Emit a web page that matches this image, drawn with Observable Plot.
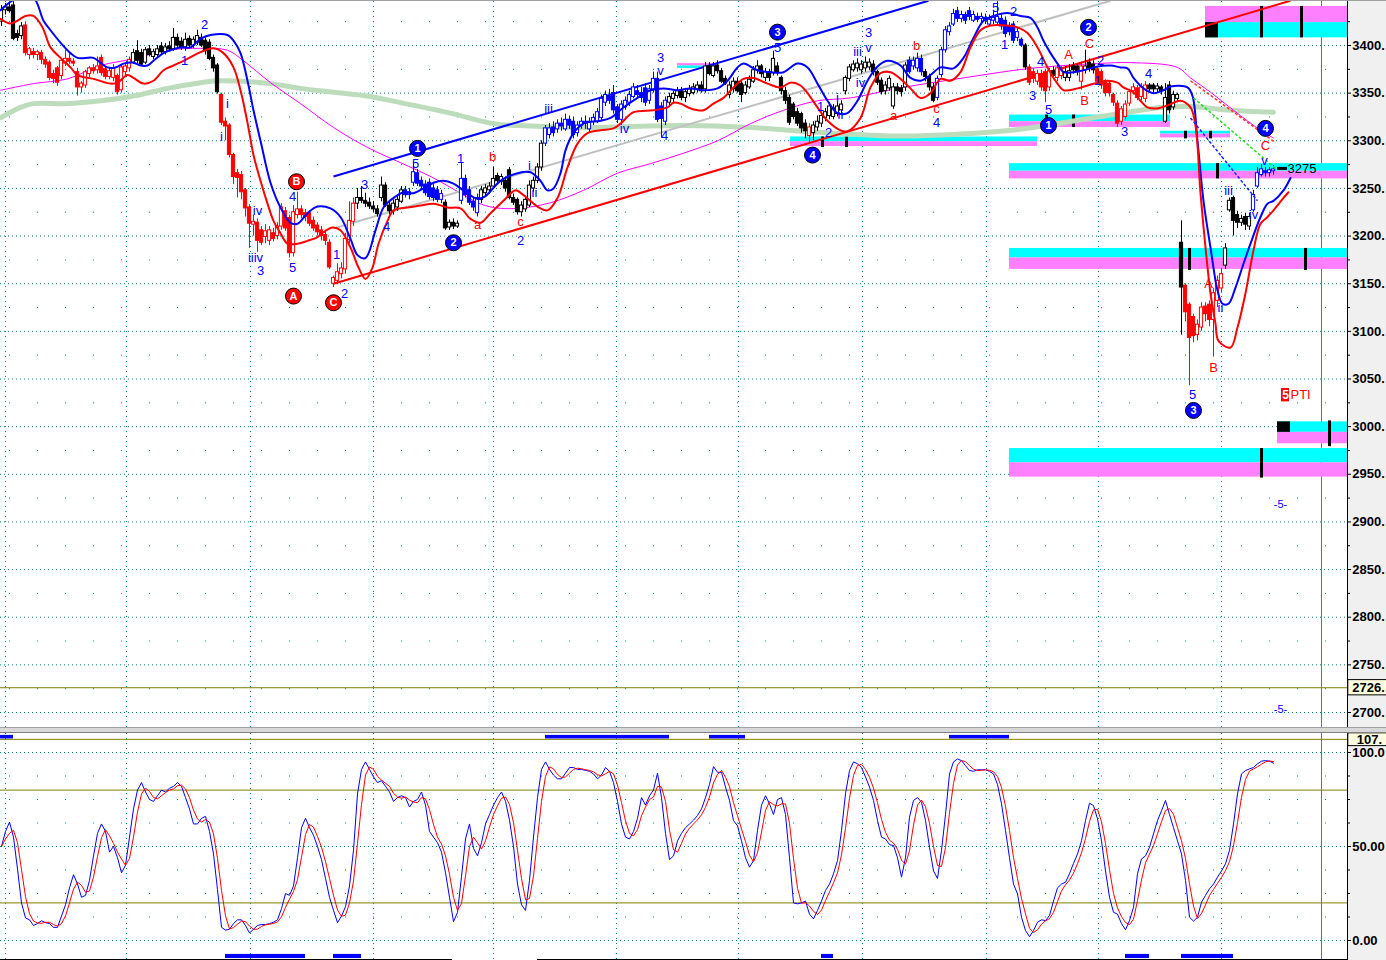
<!DOCTYPE html>
<html><head><meta charset="utf-8">
<script src="https://cdn.jsdelivr.net/npm/d3@7"></script>
<script src="https://cdn.jsdelivr.net/npm/@observablehq/plot@0.6"></script>
<style>
html,body{margin:0;padding:0;background:#fff;overflow:hidden}
#wrap{position:relative;width:1386px;height:960px;overflow:hidden;background:linear-gradient(to right,#fff 0,#fff 1348px,#f0f0f0 1348px)}
#top{border-top:1px solid #a0a0a0}
#sep{height:4px;background:#d8d8d8;border-top:1px solid #a0a0a0;border-bottom:1px solid #808080}
svg{display:block}
</style></head><body><div id="wrap"><div id="top"></div><div id="sep"></div><div id="bot"></div></div>
<script>
// ---------- price bars (one entry per bar) ----------
const barOpen = [
3425,3437,3440,3442,3412,3410,3421,3390,3393,3390,
3392,3385,3382,3370,3376,3368,3381,3386,3383,3372,
3356,3358,3370,3376,3374,3387,3375,3367,3366,3368,
3353,3372,3376,3382,3394,3392,3382,3396,3388,3390,
3399,3393,3399,3396,3408,3404,3398,3407,3400,3403,
3408,3405,3403,3387,3379,3348,3320,3316,3285,3266,
3264,3248,3230,3212,3214,3206,3199,3195,3203,3200,
3210,3226,3219,3182,3222,3228,3224,3224,3216,3211,
3206,3201,3193,3150,3153,3160,3165,3196,3215,3234,
3240,3237,3235,3231,3228,3240,3253,3232,3226,3230,
3236,3248,3243,3256,3266,3258,3254,3256,3250,3248,
3238,3235,3209,3214,3210,3237,3260,3248,3236,3224,
3238,3245,3248,3252,3263,3257,3258,3269,3240,3238,
3225,3228,3232,3250,3258,3272,3297,3306,3314,3312,
3318,3312,3322,3320,3308,3316,3320,3312,3320,3320,
3324,3340,3346,3350,3335,3322,3335,3340,3346,3352,
3350,3355,3342,3354,3365,3336,3320,3340,3344,3347,
3352,3345,3349,3350,3354,3358,3354,3378,3368,3379,
3373,3365,3348,3354,3362,3360,3350,3356,3362,3374,
3378,3366,3372,3371,3378,3366,3352,3345,3338,3330,
3328,3318,3305,3308,3314,3318,3324,3326,3325,3328,
3332,3352,3365,3374,3376,3374,3376,3377,3380,3372,
3363,3352,3355,3336,3356,3355,3356,3384,3378,3376,
3386,3372,3367,3356,3345,3369,3395,3414,3422,3436,
3428,3432,3436,3426,3430,3428,3429,3422,3426,3424,
3428,3426,3420,3422,3408,3406,3400,3377,3372,3362,
3370,3372,3356,3373,3366,3368,3366,3366,3378,3378,
3362,3374,3382,3380,3375,3372,3362,3360,3348,3339,
3320,3325,3339,3352,3355,3346,3344,3358,3358,3354,
3356,3320,3358,3335,3344,3193,3148,3128,3115,3096,
3104,3126,3128,3112,3132,3145,3169,3227,3240,3222,
3214,3220,3210,3227,3252,3264,3268,3266,3268];
const barHigh = [
3442,3444,3445,3446,3416,3424,3425,3398,3397,3395,
3395,3388,3384,3374,3378,3386,3395,3393,3386,3376,
3362,3374,3378,3380,3388,3390,3378,3376,3380,3370,
3380,3382,3388,3396,3405,3396,3398,3400,3396,3400,
3403,3402,3404,3418,3412,3408,3413,3410,3409,3416,
3412,3408,3406,3390,3381,3350,3324,3318,3287,3270,
3268,3250,3233,3222,3218,3210,3212,3210,3208,3214,
3234,3230,3222,3232,3246,3232,3228,3226,3220,3214,
3210,3206,3196,3158,3171,3172,3203,3236,3240,3250,
3252,3245,3240,3236,3232,3262,3256,3236,3238,3242,
3252,3252,3250,3278,3270,3262,3258,3260,3254,3252,
3248,3238,3217,3218,3216,3276,3264,3252,3240,3244,
3252,3254,3256,3272,3266,3265,3262,3272,3244,3240,
3236,3242,3258,3262,3276,3300,3316,3318,3320,3322,
3324,3328,3326,3325,3320,3324,3326,3324,3328,3334,
3348,3352,3354,3358,3338,3342,3346,3352,3360,3358,
3356,3360,3358,3372,3372,3340,3346,3350,3352,3356,
3356,3355,3358,3360,3362,3362,3382,3382,3382,3384,
3376,3368,3362,3366,3366,3362,3362,3368,3378,3384,
3380,3376,3375,3394,3382,3368,3356,3348,3340,3334,
3330,3322,3318,3320,3326,3330,3334,3340,3338,3340,
3342,3368,3380,3384,3386,3384,3388,3386,3384,3374,
3366,3362,3368,3360,3360,3358,3382,3388,3388,3392,
3390,3375,3370,3360,3368,3398,3420,3424,3438,3440,
3436,3435,3440,3436,3434,3434,3433,3432,3436,3446,
3432,3430,3424,3425,3418,3408,3402,3380,3376,3374,
3374,3375,3376,3378,3380,3378,3378,3380,3382,3380,
3382,3395,3386,3384,3378,3374,3364,3362,3350,3342,
3336,3342,3354,3360,3358,3360,3362,3360,3360,3360,
3358,3360,3362,3352,3350,3216,3150,3130,3118,3112,
3130,3130,3132,3145,3158,3166,3192,3240,3242,3226,
3222,3224,3224,3248,3272,3275,3272,3272,3274];
const barLow = [
3420,3432,3434,3405,3404,3406,3389,3385,3386,3384,
3380,3376,3363,3360,3357,3364,3378,3380,3378,3347,
3350,3355,3366,3370,3370,3368,3364,3364,3362,3348,
3350,3368,3372,3380,3380,3378,3380,3388,3385,3388,
3390,3390,3393,3394,3398,3395,3394,3397,3397,3400,
3398,3390,3384,3372,3349,3316,3300,3282,3254,3240,
3238,3220,3187,3200,3183,3190,3192,3190,3194,3196,
3206,3205,3177,3178,3218,3218,3215,3210,3205,3200,
3195,3190,3165,3146,3149,3155,3160,3192,3210,3228,
3234,3230,3228,3225,3220,3236,3230,3222,3222,3226,
3234,3240,3238,3252,3252,3248,3242,3238,3236,3235,
3234,3206,3206,3207,3208,3233,3240,3232,3226,3220,
3234,3242,3244,3250,3254,3253,3246,3238,3232,3222,
3220,3225,3230,3246,3255,3268,3294,3302,3304,3308,
3310,3310,3312,3302,3304,3312,3312,3308,3316,3318,
3320,3336,3338,3328,3318,3318,3332,3336,3344,3344,
3340,3336,3338,3350,3319,3303,3316,3336,3340,3344,
3342,3340,3346,3348,3350,3350,3350,3368,3366,3370,
3360,3358,3344,3350,3350,3340,3348,3354,3360,3370,
3366,3362,3362,3368,3368,3348,3338,3316,3322,3315,
3308,3302,3298,3300,3310,3314,3320,3322,3322,3325,
3328,3348,3362,3372,3372,3370,3372,3374,3368,3358,
3348,3348,3352,3333,3348,3346,3352,3370,3374,3372,
3368,3362,3352,3340,3342,3366,3392,3410,3420,3424,
3424,3422,3426,3424,3424,3424,3422,3420,3422,3420,
3416,3408,3410,3402,3404,3398,3374,3358,3360,3358,
3352,3340,3352,3364,3362,3364,3362,3362,3370,3368,
3353,3370,3372,3370,3358,3354,3346,3346,3336,3314,
3316,3322,3336,3348,3342,3342,3340,3350,3350,3350,
3348,3318,3328,3332,3340,3096,3110,3043,3088,3090,
3100,3110,3105,3073,3125,3140,3165,3225,3200,3208,
3210,3206,3206,3225,3250,3262,3262,3262,3264];
const barClose = [
3437,3440,3436,3407,3408,3420,3392,3396,3390,3393,
3385,3380,3366,3365,3361,3384,3386,3383,3381,3356,
3360,3372,3376,3373,3378,3371,3367,3373,3376,3351,
3377,3378,3385,3392,3384,3380,3395,3390,3393,3396,
3393,3398,3396,3408,3400,3398,3406,3400,3406,3410,
3400,3394,3386,3376,3351,3319,3315,3285,3262,3261,
3246,3229,3213,3215,3195,3193,3205,3206,3197,3210,
3230,3208,3182,3225,3228,3222,3220,3213,3208,3204,
3200,3195,3167,3156,3162,3166,3197,3216,3234,3240,
3237,3234,3231,3228,3223,3253,3232,3226,3234,3238,
3248,3243,3246,3267,3255,3252,3245,3241,3240,3238,
3244,3208,3214,3210,3213,3260,3243,3235,3230,3240,
3248,3250,3252,3260,3258,3262,3250,3240,3235,3225,
3232,3238,3253,3258,3272,3297,3313,3313,3308,3318,
3315,3322,3316,3306,3316,3320,3318,3320,3324,3330,
3344,3348,3342,3332,3322,3338,3342,3348,3356,3348,
3345,3340,3354,3365,3322,3323,3342,3346,3349,3352,
3345,3351,3354,3356,3358,3352,3378,3370,3378,3373,
3362,3360,3358,3362,3352,3348,3358,3364,3374,3378,
3370,3372,3366,3386,3372,3352,3342,3319,3325,3318,
3313,3310,3314,3316,3320,3326,3330,3336,3334,3336,
3338,3366,3377,3380,3381,3380,3382,3382,3372,3361,
3351,3358,3365,3356,3352,3351,3379,3372,3384,3386,
3372,3367,3356,3342,3365,3395,3416,3420,3433,3428,
3432,3426,3430,3432,3427,3430,3426,3427,3429,3430,
3420,3412,3414,3405,3414,3400,3377,3361,3365,3370,
3356,3352,3373,3368,3376,3374,3372,3373,3374,3372,
3378,3378,3376,3374,3362,3358,3350,3350,3340,3318,
3333,3338,3351,3356,3345,3356,3358,3354,3354,3357,
3352,3345,3332,3348,3348,3146,3120,3093,3095,3107,
3125,3118,3112,3140,3153,3160,3187,3237,3216,3214,
3218,3212,3220,3243,3266,3270,3266,3269,3270];
// bar colour class: r = red (down trend), b = blue (up trend), k = black/white
const barTone =
"kkkkkkrrrr"+"rrrrrrrrrr"+"rrrrrrrrrr"+"rrrkkkkkkk"+"kkkkkkkkkk"+
"kkkkkrrrrr"+"rrrrrrrrrr"+"rrrrrrrrrr"+"rrrrrrrrrk"+"kkkkkkkkkk"+
"kbbbbbbbbb"+"bkkkkbbbbb"+"kkkkkkkkkk"+"kkkkkkbbbb"+"bbbbbbbbbb"+
"bbbbbbbbbb"+"bbbbbbbkkk"+"kkkkkkkkkk"+"kkkkkkkkkk"+"kkkkkkkkkk"+
"kkrkkkkkkk"+"kkkkkkkkkk"+"kkkkkkkbbb"+"bkkkbbbbbb"+"bbbbbbbbbb"+
"bbbbbbkrrr"+"rrrkrrkkkk"+"rkkkrrrrrr"+"rrrrrrrkkk"+"kkkkkkrrrr"+
"rrrrrrkkkk"+"kkkbbbbbb";

// ---------- stochastic %K (lower panel), one per bar ----------
const stochK = [
50,58,63,55,38,20,12,11,8,9,
10.5,9.5,9,7,7,13,19,28,35,30,
23,24,32,45,57,62,58,47,50,44,
36,40,55,70,80,84,79,75,74,77,
80,79,81,82,84,82,76,70,62,62,
65,66,58,46,27,7,5.5,6,9,11,
11,8,4,6,8,8.5,8.5,9,9.7,11,
17,25,24,29,44,60,65,60,56,50,
43,33,23,16,9.5,13,18,29,48,78,
91,95,91,87,84,85,82,79,74,76,
77,76,71,74,75,79,72,58,55,52,
47,36,23,10,15,34,54,62,49,45,
52,62,67,72,76,79,74,64,50,30,
19,16,32,55,76,91,95,91,88,86,
86,89,92,92,91,91,90.5,90,88.6,86,
88,92,90,84,74,62,55,54,58,65,
76,72,77,80,89,76,57,43,45,53,
57,60,62,64,66.5,70,76,83,92.5,89.5,
89.5,81.6,74.5,63.8,61,53,44,39,42.5,58.5,
72,77,72.7,67,75,76,67,44,20,19.5,
20,21,14,11.5,16,21,26.6,30,35.5,42.5,
58.5,78,90.4,95,94,92,87,81.6,74.5,63.8,
55,54,51,50.5,44,33.7,44,65.6,74.5,76,
73.6,63.8,49.6,37,33,48,67,88.6,95,96.6,
95.7,93,90.4,90,90.8,90.8,90.8,90,88.6,83,
72.7,58.5,44,30,24.8,12.4,5.3,2,5.3,9.7,
11,10.6,13.3,21,28,30,31,35.5,41,46,
53,63.8,73,71.8,64.7,53,37,23,15,14,
9,5.7,10.6,17.7,35.5,43.4,45,49.6,56.7,63.8,
69,74.5,67,60,53,46,32,12.4,10.3,12.4,
20.4,24,27.5,30,33.7,37,40.8,48,62,78,
88.6,90.4,91.3,92,94,95.4,95.7,95.4,94.3];

// ---------- indicator lines (bar position, price) ----------
const blueBandBar = [-0.25,4,8,10.5,12.25,14.75,17.25,19,23,24.75,26.5,28.5,30.5,33,34.75,36.5,38,40.5,42.25,44.75,47.25,49.75,52.25,56.5,58,59.75,61.5,63,64.75,67.25,69.75,72.25,74,76.5,79,82.25,84.75,87.25,89,91,93.5,95.5,98,100.5,103,105.5,108,110.5,113,115.5,119,121,124.75,129,132.25,134.75,136.5,138,139.75,141,143,145.5,149.75,152.25,155.5,159,162.25,165.5,169,172.25,175.5,179,181.5,184,185.5,189,192.25,195.5,199,201.5,204,206.5,209,211.5,214,216.5,219,221.5,224.75,227.25,229.75,232.25,234.75,238,240.5,243,245.5,248,251.5,254.75,257.25,259,260.5,262.25,264,265.5,268,270.5,274,277.25,279.75,281.5,283,285.5,288,290.5,292.25,296.5,297.75,299,300.5,302.25,304,305.25,306.75,308.5,310.5,312.25,314.75,316.5,318,320.5,322.25];
const blueBandPrice = [3437,3450,3450,3426,3416,3403,3392,3387,3387,3382,3377,3377,3381,3382,3379,3379,3384,3392,3395,3398,3398,3407,3411,3411,3405,3392,3363,3332,3300,3256,3230,3214,3213,3224,3231,3229,3220,3197,3180,3177,3206,3230,3240,3246,3245,3250,3256,3258,3255,3248,3239,3242,3258,3266,3267,3258,3248,3250,3266,3290,3308,3318,3321,3324,3335,3345,3353,3355,3353,3355,3353,3355,3363,3377,3381,3374,3372,3372,3381,3377,3360,3342,3329,3329,3342,3363,3378,3384,3379,3366,3363,3369,3377,3376,3387,3408,3426,3431,3434,3431,3429,3419,3405,3392,3381,3372,3372,3374,3378,3379,3377,3376,3366,3355,3350,3353,3357,3356,3347,3300,3237,3188,3143,3129,3129,3146,3171,3192,3220,3234,3237,3248,3261];
const redBandBar = [-0.25,2.25,4,6,8,10.25,12.25,14.75,17.25,19,23,27.25,29,31.5,33,35.5,38,40.5,43,46.5,49.75,53,55.5,58,59.75,61.5,63,64.75,66.5,68,69.75,71.5,74,76.5,79,80.5,82.75,84.75,87.25,89.25,91,92.75,94.25,96.5,98,101.5,104.75,108,111.5,114.75,117.25,119.75,122.25,125.5,128.5,130.5,134,136.5,139,141.5,144,146.5,149.75,153,154.75,158,163,166.5,168,169.75,172.25,175.5,178,180.5,183,185.5,188,191.5,194.75,197.25,199.75,201.5,204,206.5,209.75,211.5,214.75,217.25,219.75,222.25,224.75,227.25,229.75,232.25,234.75,237.25,239.75,242.25,244.75,247.25,251.5,254,256.5,259,261.5,264,265.5,269,271.5,274,276.5,279,280.5,283,284.75,286.5,289,291.5,294.75,297.25,298.5,299.75,301,302.25,303.5,304.25,307.25,309,311,313,314.75,316.5,318,320.5,321.75];
const redBandPrice = [3428,3423,3426,3431,3431,3419,3398,3387,3377,3369,3365,3360,3361,3369,3366,3360,3363,3374,3379,3386,3393,3397,3392,3377,3353,3319,3285,3258,3234,3216,3203,3192,3192,3195,3199,3204,3209,3206,3188,3167,3155,3167,3192,3216,3227,3230,3232,3234,3230,3229,3218,3214,3224,3237,3248,3243,3231,3227,3240,3272,3297,3308,3311,3313,3318,3330,3332,3335,3340,3339,3334,3332,3339,3345,3356,3365,3366,3360,3356,3361,3358,3350,3335,3321,3311,3310,3324,3356,3371,3372,3365,3355,3345,3350,3365,3363,3372,3398,3416,3421,3421,3419,3413,3398,3377,3360,3353,3355,3358,3361,3363,3361,3356,3351,3342,3335,3334,3337,3342,3335,3316,3245,3188,3140,3108,3090,3083,3104,3140,3185,3213,3220,3227,3240,3246];
const slowMaBar = [-0.25,4.75,8,16.5,24.75,33,41.5,49.75,54,62.25,67.25,74.75,83,91.5,99.75,112.25,123,129,145.5,170.5,187.25,204,224.75,239.75,249.75,261.5,269.75,277.25,284.75,289.75,297.25,307.25,318];
const slowMaPrice = [3324,3335,3339,3339,3342,3347,3355,3361,3363,3362,3360,3355,3351,3347,3340,3329,3318,3316,3314,3316,3314,3309,3305,3307,3310,3316,3322,3327,3332,3335,3336,3332,3330];
const midMaBar = [-0.25,8,16.5,24.75,33,41.5,49.75,56.5,60.5,67.25,74.75,83,91.5,99.75,108,114.75,119,123,129,137.25,145.5,154,162.25,170.5,179,187.25,195.5,204,212.25,224,240.5,257.25,274,282.25,294,297.25,302.25,308,314.75,318];
const midMaPrice = [3353,3360,3365,3379,3386,3395,3397,3395,3384,3361,3339,3314,3293,3277,3261,3245,3235,3230,3229,3235,3248,3266,3276,3287,3300,3318,3332,3342,3345,3355,3366,3376,3381,3382,3377,3366,3351,3332,3311,3303];

// trend lines (gray, channel top, channel bottom)
const trendFromBar = [83, 83, 83];
const trendFromPrice = [3208, 3262.5, 3150];
const trendToBar = [277.25, 231.75, 322.25];
const trendToPrice = [3447, 3447, 3447];
const trendColor = ["#c0c0c0", "#0000ff", "#ff0000"];
// projection lines (x-marked)
const projFromBar = [297.25, 298, 297.25];
const projFromPrice = [3363, 3345, 3324];
const projToBar = [318.5, 318.5, 314];
const projToPrice = [3298, 3271, 3237];
const projColor = ["#ff3030", "#20e020", "#2020ff"];

// support / resistance zones
const zoneStart = [301, 252, 252, 252, 319, 252, 289.75, 197.25, 169];
const zoneEnd = [336.5, 336.5, 336.5, 336.5, 336.5, 292.25, 307.25, 259, 179];
const zoneTop = [3441, 3276, 3187, 2977, 3005, 3327, 3310, 3304, 3381];
const zoneMid = [3424, 3268, 3177, 2962, 2994, 3320, 3307, 3299, 3378.5];
const zoneBottom = [3408, 3260, 3165, 2947, 2982, 3314, 3303, 3294, 3376];
const zoneUpper = ["#ff80ff","#00ffff","#00ffff","#00ffff","#00ffff","#00ffff","#00ffff","#00ffff","#ff80ff"];
const zoneLower = ["#00ffff","#ff80ff","#ff80ff","#ff80ff","#ff80ff","#ff80ff","#ff80ff","#ff80ff","#00ffff"];
const markBar = [315, 325, 297, 326, 315, 332, 261.25, 268, 296, 302.25, 205.25, 211.25, 304];
const markTop = [3441, 3441, 3187, 3187, 2977, 3006, 3327, 3327, 3310, 3310, 3304, 3304, 3276];
const markBottom = [3408, 3408, 3164, 3164, 2946, 2979, 3314, 3314, 3302, 3302, 3293, 3293, 3260];
const blockStart = [301, 319];
const blockEnd = [304.25, 322.25];
const blockTop = [3424, 3005];
const blockBottom = [3408, 2994];

// wave labels
const blueLabelText = ["2","1","i","i","iv","iiiv","3","4","5","1","2","3","4","5","1","i","ii","2","iii","iv","3","v","4","5","1","2","i","ii","3","iii","v","iv","4","5","2","1","4","3","5","2","1","4","3","v","iii","iv","ii","5"];
const blueLabelBar = [50.75,45.75,56.5,55,64,63.5,64.75,72.75,72.75,83.75,85.75,90.75,96.25,103.5,114.75,132,133.25,129.75,136.75,155.75,164.75,164.75,165.75,194,204.75,206.75,209,209.75,216.75,214,216.75,214.75,233.75,248.5,253,250.75,259.75,257.75,261.75,274.75,274,286.75,280.75,315.75,306.75,313,304.75,297.75];
const blueLabelPrice = [3422,3384,3339,3304,3227,3177,3163,3241,3167,3180,3139,3254,3210,3276,3281,3274,3245,3195,3334,3313,3387,3373,3305,3398,3336,3308,3345,3327,3413,3393,3398,3361,3319,3440,3435,3401,3383,3347,3332,3384,3363,3370,3309,3279,3248,3222,3125,3033];
const redLabelText = ["b","a","c","a","b","c","A","C","B","A","B","C"];
const redLabelBar = [122.75,119,129.75,223,228.75,233.75,266.75,272,270.75,301.75,303,316];
const redLabelPrice = [3283,3212,3215,3326,3400,3334,3390,3402,3342,3150,3062,3295];
const circleText = ["1","2","3","4","2","1","3","4","B","A","C"];
const circleBar = [104,113,194,202.75,271.75,261.75,298,316,73.75,73,83];
const circlePrice = [3292,3193,3414,3285,3419,3316,3017,3313,3257,3137,3130];
const circleColor = ["#0000ff","#0000ff","#0000ff","#0000ff","#0000ff","#0000ff","#0000ff","#0000ff","#ff0000","#ff0000","#ff0000"];

// axes
const priceTicks = [2700,2750,2800,2850,2900,2950,3000,3050,3100,3150,3200,3250,3300,3350,3400];
const priceMinor = [2725,2775,2825,2875,2925,2975,3025,3075,3125,3175,3225,3275,3325,3375,3425];
const periodBars = [1,31.25,62.25,93,123,153.75,184.25,215.25,246.25,274.25,305];
const stochTicks = [0,50,100];
const stochTickText = ["0.00","50.00","100.0"];
const stochMinor = [12.5,25,37.5,62.5,75,87.5];
const stochLevels = [107,80,20];
const hiZoneStart = [-0.25,136,177,237], hiZoneEnd = [3,167,186,252];
const loZoneStart = [56,83,205,281,295], loZoneEnd = [76,90,208,287,308];
const lastPrice = 2726;

// ---------- build ----------
const TONE = {r:"#ff0000", b:"#0000ff", k:"#000000"};
const bars = barOpen.map((o,i)=>({i, o, h:barHigh[i], l:barLow[i], c:barClose[i], col:TONE[barTone[i]]}));
const zip = (xs, ys) => xs.map((x,i)=>({x, y:ys[i]}));
const font = "'Liberation Sans', Arial, Helvetica, sans-serif";
const AX = 336.5; // right edge of plotting area, in bar units
const X = {type:"linear", domain:[-0.25, 336.5], range:[0,1347], axis:null};
const teal = "#008080", olive = "#808000";

const zones = [];
zoneStart.forEach((s,j)=>{
  zones.push({x1:s, x2:zoneEnd[j], y1:zoneMid[j], y2:zoneTop[j], fill:zoneUpper[j]});
  zones.push({x1:s, x2:zoneEnd[j], y1:zoneBottom[j], y2:zoneMid[j], fill:zoneLower[j]});
});
const marks = markBar.map((b,j)=>({x:b, y1:markBottom[j], y2:markTop[j]}));
const blocks = blockStart.map((s,j)=>({x1:s, x2:blockEnd[j], y1:blockBottom[j], y2:blockTop[j]}));
const trends = trendFromBar.map((b,j)=>({x1:b, y1:trendFromPrice[j], x2:trendToBar[j], y2:trendToPrice[j], s:trendColor[j]}));
const projs = projFromBar.map((b,j)=>({x1:b, y1:projFromPrice[j], x2:projToBar[j], y2:projToPrice[j], s:projColor[j]}));
const blueLabels = blueLabelText.map((t,j)=>({t, x:blueLabelBar[j], y:blueLabelPrice[j]}));
const redLabels = redLabelText.map((t,j)=>({t, x:redLabelBar[j], y:redLabelPrice[j]}));
const circles = circleText.map((t,j)=>({t, x:circleBar[j], y:circlePrice[j], f:circleColor[j]}));

const topPlot = Plot.plot({
  width:1386, height:726, marginLeft:0, marginRight:39, marginTop:0, marginBottom:0,
  x:X, y:{type:"linear", domain:[2700,3400], range:[711,44], axis:null},
  color:{type:"identity"},
  style:{background:"transparent", fontFamily:font, overflow:"hidden"},
  marks:[
    Plot.ruleY(priceMinor, {stroke:teal, strokeDasharray:"1,27", strokeDashoffset:19}),
    Plot.ruleY(priceTicks, {stroke:teal, strokeDasharray:"1,3"}),
    Plot.ruleX(periodBars, {stroke:teal, strokeDasharray:"1,4"}),
    Plot.ruleY([lastPrice], {stroke:olive}),
    Plot.ruleX([330], {stroke:olive}),
    Plot.rect(zones, {x1:"x1", x2:"x2", y1:"y1", y2:"y2", fill:"fill"}),
    Plot.ruleX(marks, {x:"x", y1:"y1", y2:"y2", stroke:"#000", strokeWidth:3}),
    Plot.rect(blocks, {x1:"x1", x2:"x2", y1:"y1", y2:"y2", fill:"#000"}),
    Plot.line(zip(slowMaBar, slowMaPrice), {x:"x", y:"y", stroke:"#bcdcbc", strokeWidth:5, curve:"catmull-rom", clip:true}),
    Plot.line(zip(midMaBar, midMaPrice), {x:"x", y:"y", stroke:"#ff00ff", strokeWidth:1, curve:"catmull-rom", clip:true}),
    Plot.link(trends, {x1:"x1", y1:"y1", x2:"x2", y2:"y2", stroke:"s", strokeWidth:2, clip:true}),
    Plot.ruleX(bars, {x:"i", y1:"l", y2:"h", stroke:"col", strokeWidth:1}),
    Plot.rect(bars, {x1:d=>d.i-0.4, x2:d=>d.i+0.4, y1:d=>Math.min(d.o,d.c), y2:d=>Math.max(d.o,d.c),
      fill:d=>d.c>d.o?"#ffffff":d.col, stroke:"col", strokeWidth:1}),
    Plot.line(zip(blueBandBar, blueBandPrice), {x:"x", y:"y", stroke:"#0000ff", strokeWidth:2, curve:"catmull-rom", clip:true}),
    Plot.line(zip(redBandBar, redBandPrice), {x:"x", y:"y", stroke:"#ff0000", strokeWidth:2, curve:"catmull-rom", clip:true}),
    Plot.link(projs, {x1:"x1", y1:"y1", x2:"x2", y2:"y2", stroke:"s", strokeWidth:1.5, strokeDasharray:"3,2"}),
    Plot.text(blueLabels, {x:"x", y:"y", text:"t", fill:"#0000ff", fontSize:13}),
    Plot.text(redLabels, {x:"x", y:"y", text:"t", fill:"#ff0000", fontSize:13}),
    Plot.dot(circles, {x:"x", y:"y", r:8, fill:"f", stroke:"#000", strokeWidth:1}),
    Plot.text(circles, {x:"x", y:"y", text:"t", fill:"#fff", fontSize:11, fontWeight:"bold"}),
    // annotations on the right
    Plot.ruleY([3271], {x1:319, x2:321.5, stroke:"#000", strokeWidth:3}),
    Plot.text(["3275"], {x:321.5, y:3271, textAnchor:"start", fill:"#000", fontSize:13}),
    Plot.text(["-5-"], {x:319.75, y:2918, fill:"#0000ff", fontSize:11}),
    Plot.text(["-5-"], {x:319.75, y:2703, fill:"#0000ff", fontSize:11}),
    Plot.rect([3033], {x1:320, x2:322, y1:d=>d-7, y2:d=>d+7, fill:"#ff0000"}),
    Plot.text(["5"], {x:321, y:3033, fill:"#fff", fontSize:12, fontWeight:"bold"}),
    Plot.text(["PTI"], {x:322.25, y:3033, textAnchor:"start", fill:"#ff0000", fontSize:13}),
    // right axis
    Plot.ruleX([AX], {stroke:"#000"}),
    Plot.ruleY(priceTicks, {x1:AX, x2:AX+1, stroke:"#000"}),
    Plot.ruleY(priceMinor, {x1:AX, x2:AX+0.75, stroke:"#000"}),
    Plot.text(priceTicks, {x:AX+1.2, y:d=>d, text:d=>d+".", textAnchor:"start", fill:"#000", fontSize:13, fontWeight:"bold"}),
    Plot.rect([lastPrice], {x1:AX+0.2, x2:AX+10, y1:d=>d-8, y2:d=>d+8, fill:"#ffffe0", stroke:"#000"}),
    Plot.text([lastPrice], {x:AX+1.2, y:d=>d, text:d=>d+".", textAnchor:"start", fill:"#000", fontSize:13, fontWeight:"bold"})
  ]
});
document.getElementById("top").append(topPlot);

const stoch = stochK.map((k,i)=>({i, k}));
const hiZones = hiZoneStart.map((s,j)=>({x1:s, x2:hiZoneEnd[j]}));
const loZones = loZoneStart.map((s,j)=>({x1:s, x2:loZoneEnd[j]}));
const botPlot = Plot.plot({
  width:1386, height:227, marginLeft:0, marginRight:39, marginTop:0, marginBottom:0,
  x:X, y:{type:"linear", domain:[0,100], range:[207,19], axis:null},
  color:{type:"identity"},
  style:{background:"transparent", fontFamily:font, overflow:"hidden"},
  marks:[
    Plot.ruleY(stochMinor, {stroke:teal, strokeDasharray:"1,27", strokeDashoffset:19}),
    Plot.ruleY(stochTicks, {stroke:teal, strokeDasharray:"1,3"}),
    Plot.ruleX(periodBars, {stroke:teal, strokeDasharray:"1,4"}),
    Plot.ruleY(stochLevels, {stroke:olive}),
    Plot.ruleX([330], {stroke:olive}),
    Plot.rect(hiZones, {x1:"x1", x2:"x2", y1:107.2, y2:109.1, fill:"#0000ff"}),
    Plot.rect(loZones, {x1:"x1", x2:"x2", y1:-9.6, y2:-7.4, fill:"#0000ff"}),
    Plot.line(stoch, {x:"i", y:"k", stroke:"#0000ff", strokeWidth:1}),
    Plot.line(stoch, Plot.windowY({k:3, anchor:"end"}, {x:"i", y:"k", stroke:"#ff0000", strokeWidth:1})),
    Plot.ruleY([-10.2], {x1:-0.25, x2:112.75, stroke:"#000", strokeWidth:1.5}),
    Plot.ruleY([-10.2], {x1:134, x2:AX, stroke:"#000", strokeWidth:1.5}),
    Plot.ruleX([AX], {stroke:"#000"}),
    Plot.ruleY(stochTicks, {x1:AX, x2:AX+1, stroke:"#000"}),
    Plot.ruleY(stochMinor, {x1:AX, x2:AX+0.75, stroke:"#000"}),
    Plot.text(stochTicks, {x:AX+1.2, y:d=>d, text:(d,i)=>stochTickText[i], textAnchor:"start", fill:"#000", fontSize:13, fontWeight:"bold"}),
    Plot.rect([107], {x1:AX+0.2, x2:AX+10, y1:103.4, y2:110.2, fill:"#ffffe0", stroke:"#000"}),
    Plot.text([107], {x:AX+2.3, y:d=>d, text:d=>d+".", textAnchor:"start", fill:"#000", fontSize:13, fontWeight:"bold"})
  ]
});
document.getElementById("bot").append(botPlot);
</script></body></html>
